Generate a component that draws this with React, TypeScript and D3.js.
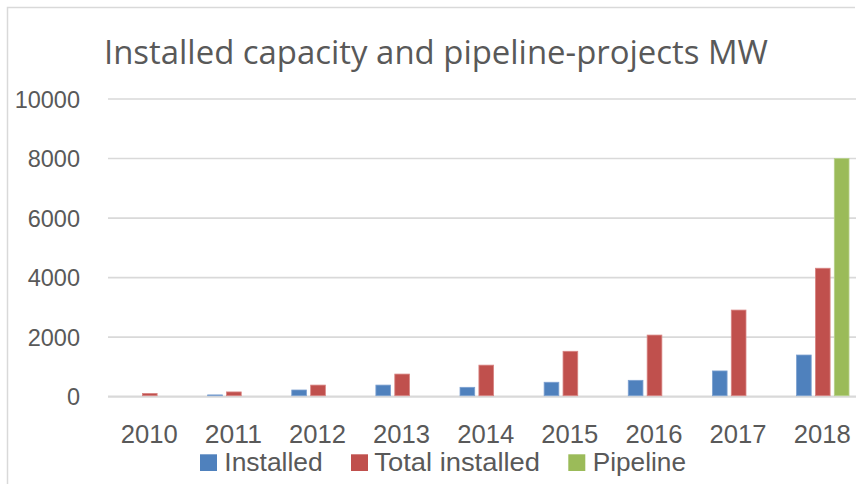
import React from 'react';
import * as d3 from 'd3';

// chart data
const years = ['2010', '2011', '2012', '2013', '2014', '2015', '2016', '2017', '2018'];
const installed = [0, 60, 225, 390, 315, 485, 550, 865, 1400];
const totalInstalled = [110, 160, 390, 760, 1060, 1525, 2070, 2910, 4315];
const pipeline = [0, 0, 0, 0, 0, 0, 0, 0, 8000];
const yTicks = [0, 2000, 4000, 6000, 8000, 10000];

const seriesNames = ['Installed', 'Total installed', 'Pipeline'];
const seriesColors = ['#4F81BD', '#C0504D', '#9BBB59'];
const seriesStroke = ['#7da1d0', '#d88583', '#b6d08a'];

const W = 856, H = 484;
const font = '"Open Sans", "Liberation Sans", sans-serif';
const labelFont = '"Liberation Sans", Arial, sans-serif';
const textColor = '#595959';

export default function App() {
  const series = [installed, totalInstalled, pipeline];

  const x = d3.scaleBand<string>().domain(years).range([107.7, 107.7 + 84.125 * 9]);
  const y = d3.scaleLinear().domain([0, 10000]).range([396.7, 99]);
  const barW = 14.7, step = 18.9;
  const center = (yr: string) => (x(yr) as number) + x.bandwidth() / 2;

  // legend layout: square x, text x, text length
  const legend = [
    { sq: 200, tx: 224.3, len: 98.4 },
    { sq: 351, tx: 374.3, len: 165.7 },
    { sq: 568.3, tx: 592.7, len: 93.3 },
  ];

  return (
    <svg width={W} height={H} style={{ position: 'absolute', left: 0, top: 0, background: '#fff' }}>
      {/* chart border */}
      <path d={`M7.5,${H} V7.5 H855`} fill="none" stroke="#d9d9d9" strokeWidth={1.5} />

      <text x={104} y={63.5} fontFamily={font} fontSize={33.6} fill={textColor} textLength={664} lengthAdjust="spacingAndGlyphs">
        Installed capacity and pipeline-projects MW
      </text>

      {/* gridlines */}
      {yTicks.map(t => (
        <line key={t} x1={108} x2={W} y1={y(t)} y2={y(t)} stroke="#d9d9d9" strokeWidth={t === 0 ? 2.2 : 1.6} />
      ))}
      {yTicks.map(t => (
        <text key={'l' + t} x={80} y={y(t) + 8.5} textAnchor="end" fontFamily={labelFont} fontSize={23.5} fill={textColor}>
          {t}
        </text>
      ))}

      {/* bars */}
      {series.map((vals, si) =>
        years.map((yr, i) => {
          const v = vals[i];
          if (!v) return null;
          const bx = center(yr) + (si - 1) * step - barW / 2;
          return (
            <rect key={si + '-' + yr} x={bx} y={y(v)} width={barW} height={y(0) - y(v) - 1}
              fill={seriesColors[si]} stroke={seriesStroke[si]} strokeWidth={0.8} />
          );
        })
      )}

      {/* x labels */}
      {years.map(yr => (
        <text key={yr} x={center(yr) - 0.5} y={443.3} textAnchor="middle" fontFamily={labelFont} fontSize={25} fill={textColor}
          textLength={57} lengthAdjust="spacingAndGlyphs">
          {yr}
        </text>
      ))}

      {/* legend */}
      {seriesNames.map((n, i) => (
        <g key={n}>
          <rect x={legend[i].sq} y={454.3} width={17} height={16.7} fill={seriesColors[i]} />
          <text x={legend[i].tx} y={471} fontFamily={labelFont} fontSize={26.5} fill={textColor}
            textLength={legend[i].len} lengthAdjust="spacingAndGlyphs">
            {n}
          </text>
        </g>
      ))}
    </svg>
  );
}
